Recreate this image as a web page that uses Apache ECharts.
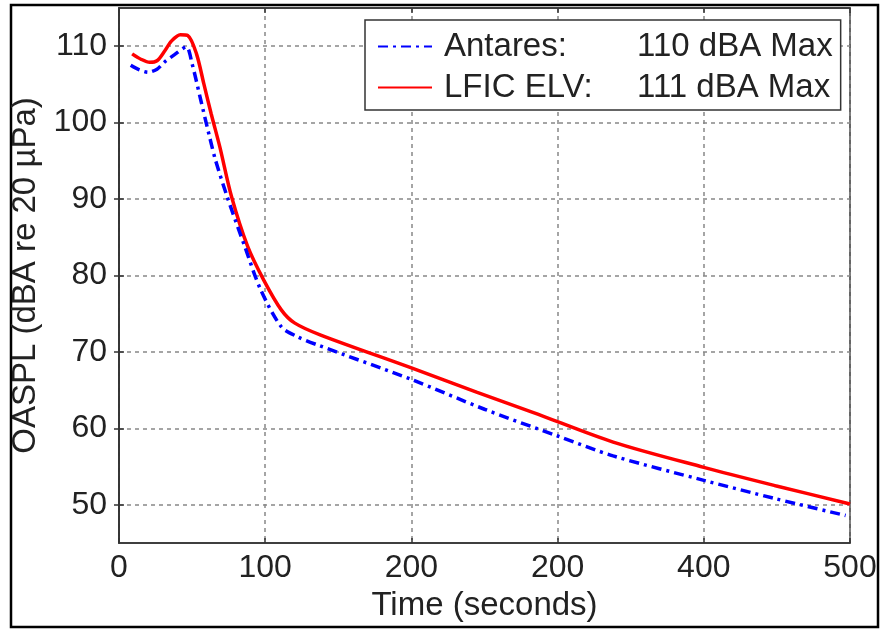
<!DOCTYPE html>
<html><head><meta charset="utf-8">
<script src="https://cdn.jsdelivr.net/npm/echarts@6/dist/echarts.min.js"></script>
<style>html,body{margin:0;padding:0;background:#fff}#c{width:881px;height:629px}</style>
</head><body><div id="c"></div>
<script>
const xTickLabels = ['0', '100', '200', '200', '400', '500'];
const yTickValues = [50, 60, 70, 80, 90, 100, 110];
const antaresX = [8, 14, 20, 26, 31, 38, 46, 50, 56, 62, 66, 74, 86, 97, 111, 122, 136, 200, 250, 300, 338, 400, 449, 497];
const antaresY = [107.5, 106.9, 106.6, 107.0, 107.9, 108.9, 109.9, 107.7, 102.9, 98.1, 95.1, 90.3, 83.8, 78.1, 73.3, 72.0, 70.9, 66.4, 62.5, 59.0, 56.4, 53.2, 50.8, 48.6];
const lficX = [9, 15, 21, 26, 31, 36, 42, 47, 53, 58, 63, 69, 77, 88, 99, 111, 120, 138, 200, 245, 283, 338, 400, 449, 500];
const lficY = [109.0, 108.3, 107.9, 108.1, 109.3, 110.7, 111.5, 111.4, 109.0, 105.1, 101.2, 96.8, 90.3, 83.8, 79.4, 75.5, 73.8, 72.2, 67.9, 64.7, 62.1, 58.2, 54.9, 52.5, 50.1];
const seriesNames = ['Antares:', 'LFIC ELV:'];
const maxLabels = {'Antares:': '110 dBA Max', 'LFIC ELV:': '111 dBA Max'};

const pair = (xs, ys) => xs.map((x, i) => [x, ys[i]]);
const FONT = 'Liberation Sans';
const FS = 32;
const LFS = 33;
const TXT = '#222';
const gridLine = {show: true, lineStyle: {color: '#888', type: [4, 4], width: 1.5}};
const innerTick = {show: true, inside: true, length: 5, lineStyle: {color: '#333', width: 1.5}};
const chart = echarts.init(document.getElementById('c'));
chart.setOption({
  animation: false,
  backgroundColor: '#fff',
  textStyle: {fontFamily: FONT},
  graphic: [{type: 'rect', shape: {x: 11, y: 5, width: 867, height: 622},
    style: {fill: 'none', stroke: '#000', lineWidth: 2.5}, silent: true}],
  grid: {left: 119, right: 31, top: 8, bottom: 86, show: true, borderColor: '#333', borderWidth: 1.5, backgroundColor: 'transparent'},
  legend: {
    left: 365, top: 20, orient: 'vertical', itemWidth: 54, itemHeight: 14, itemGap: 8,
    padding: [10, 8, 6, 12], borderColor: '#333', borderWidth: 1.5, backgroundColor: '#fff',
    itemStyle: {opacity: 0},
    data: seriesNames,
    formatter: n => '{a|' + n + '}{b|' + maxLabels[n] + '}',
    textStyle: {fontFamily: FONT, color: TXT, fontSize: LFS,
      rich: {a: {fontFamily: FONT, fontSize: LFS, color: TXT, width: 193, padding: [0, 0, 0, 7]},
             b: {fontFamily: FONT, fontSize: LFS, color: TXT}}}
  },
  xAxis: [{
    type: 'value', min: 0, max: 500, interval: 100,
    name: 'Time (seconds)', nameLocation: 'middle', nameGap: 46,
    nameTextStyle: {fontFamily: FONT, fontSize: 33, color: TXT, verticalAlign: 'top'},
    axisLine: {show: true, lineStyle: {color: '#333', width: 1.5}},
    axisTick: innerTick,
    axisLabel: {fontFamily: FONT, fontSize: FS, color: TXT, margin: 9,
      formatter: v => xTickLabels[Math.round(v / 100)]},
    splitLine: gridLine
  }, {
    type: 'value', position: 'top', min: 0, max: 500, interval: 100,
    axisLine: {show: true, lineStyle: {color: '#333', width: 1.5}},
    axisTick: innerTick, axisLabel: {show: false}, splitLine: {show: false}
  }],
  yAxis: [{
    type: 'value', min: 45, max: 115,
    name: 'OASPL (dBA re 20 µPa)', nameLocation: 'middle', nameGap: 68,
    nameTextStyle: {fontFamily: FONT, fontSize: 33, color: TXT},
    axisLine: {show: true, lineStyle: {color: '#333', width: 1.5}},
    axisTick: Object.assign({customValues: yTickValues}, innerTick),
    axisLabel: {fontFamily: FONT, fontSize: FS, color: TXT, margin: 12, customValues: yTickValues},
    splitLine: gridLine
  }, {
    type: 'value', position: 'right', min: 45, max: 115,
    axisLine: {show: true, lineStyle: {color: '#333', width: 1.5}},
    axisTick: Object.assign({customValues: yTickValues}, innerTick),
    axisLabel: {show: false, customValues: yTickValues}, splitLine: {show: false}
  }],
  series: [
    {name: 'Antares:', type: 'line', data: pair(antaresX, antaresY), symbol: 'none', smooth: 0.3,
      lineStyle: {color: '#0000ff', width: 3.5, type: [10, 5, 3, 5]}, itemStyle: {color: '#0000ff'}, z: 3},
    {name: 'LFIC ELV:', type: 'line', data: pair(lficX, lficY), symbol: 'none', smooth: 0.3,
      lineStyle: {color: '#ff0000', width: 3.5}, itemStyle: {color: '#ff0000'}, z: 2}
  ]
});
</script></body></html>
